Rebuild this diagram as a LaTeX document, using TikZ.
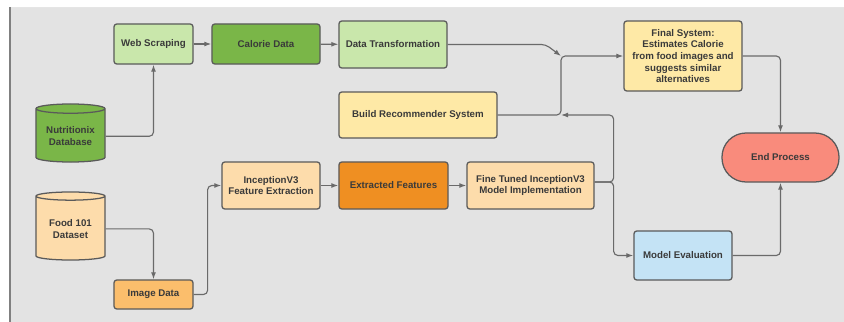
\documentclass[tikz,border=0pt]{standalone}
\usepackage{fontspec}
\setmainfont{Liberation Sans}
\usetikzlibrary{shapes.geometric,arrows.meta}

\definecolor{canvas}{HTML}{E3E3E3}
\definecolor{edge}{HTML}{5A5A5A}
\definecolor{wire}{HTML}{6A6A6A}
\definecolor{ink}{HTML}{3A3A3A}
\definecolor{leaf}{HTML}{C9E7AB}
\definecolor{grass}{HTML}{7AB648}
\definecolor{cream}{HTML}{FEE9A6}
\definecolor{peach}{HTML}{FDDCAB}
\definecolor{apricot}{HTML}{FBBE6C}
\definecolor{pumpkin}{HTML}{EF8F22}
\definecolor{sky}{HTML}{C4E3F5}
\definecolor{salmon}{HTML}{F98B7C}

\tikzset{
  box/.style={rectangle, rounded corners=2pt, draw=edge, line width=0.9pt, text=ink,
    font=\fontsize{6.9}{8.3}\selectfont\bfseries, align=center, inner sep=1pt},
  drum/.style={cylinder, shape border rotate=90, aspect=0.18, anchor=shape center, draw=edge,
    line width=0.9pt, text=ink, font=\fontsize{6.9}{8.3}\selectfont\bfseries, align=center,
    inner sep=1pt},
  link/.style={draw=wire, line width=0.8pt, rounded corners=3pt,
    -{Latex[length=5pt,width=3.5pt]}},
}

\begin{document}
\begin{tikzpicture}[x=0.025cm, y=-0.025cm]
    \useasboundingbox (0,0) rectangle (844,322);
    \fill[canvas] (10,7) rectangle (844,322);
    \draw[white!80!gray, line width=0.6pt] (10,7) -- (844,7);
    \draw[gray, line width=0.8pt] (10,7) -- (10,322);

    % data sources
    \node[drum, fill=grass, minimum width=1.725cm, minimum height=1.45cm] at (70.5,133) (nut) {Nutritionix\\Database};
    \node[drum, fill=peach, minimum width=1.725cm, minimum height=1.7cm] at (70.5,226) (food) {Food 101\\Dataset};

    % upper branch
    \node[box, fill=leaf, minimum width=1.975cm, minimum height=1cm] at (153.5,44) (web) {Web Scraping};
    \node[box, fill=grass, minimum width=2.7cm, minimum height=1cm] at (266,44) (cal) {Calorie Data};
    \node[box, fill=leaf, minimum width=2.7cm, minimum height=1.175cm] at (393,44.5) (dt) {Data Transformation};
    \node[box, fill=cream, minimum width=3.95cm, minimum height=1.15cm] at (418,115) (rec) {Build Recommender System};
    \node[box, fill=cream, minimum width=2.95cm, minimum height=1.75cm] at (683,56) (fin) {Final System:\\Estimates Calorie\\from food images and\\suggests similar\\alternatives};

    % lower branch
    \node[box, fill=apricot, minimum width=1.975cm, minimum height=0.725cm] at (153.5,294.5) (img) {Image Data};
    \node[box, fill=peach, minimum width=2.45cm, minimum height=1.175cm] at (271,185.5) (inc) {InceptionV3\\Feature Extraction};
    \node[box, fill=pumpkin, minimum width=2.725cm, minimum height=1.175cm] at (393.5,185.5) (ext) {Extracted Features};
    \node[box, fill=peach, minimum width=3.175cm, minimum height=1.175cm] at (530.5,185.5) (fine) {Fine Tuned InceptionV3\\Model Implementation};
    \node[box, fill=sky, minimum width=2.45cm, minimum height=1.225cm] at (683,255.5) (eval) {Model Evaluation};
    \node[box, fill=salmon, rounded corners=0.6cm, minimum width=2.925cm, minimum height=1.225cm] at (780.5,157.5) (end) {End Process};

    \coordinate (jn) at (561,56);
    \coordinate (jb) at (561,115);
    \coordinate (fo) at ([yshift=0.0875cm]fine.east);

    \draw[link] (nut.east) -| (web.south);
    \draw[link] (web) -- (cal);
    \draw[link] (cal) -- (dt);
    \draw[link] (dt.east) -- ++(98,0) -- (jn);
    \draw[link] (rec.east) -- (jb) -- (jn) -- (fin.west);
    \draw[link] (fin.east) -| (end.north);

    \draw[link] (food.east) -| (img.north);
    \draw[link] (img.east) -- ++(14,0) |- (inc.west);
    \draw[link] (inc) -- (ext);
    \draw[link] (ext) -- (fine);
    \draw[link] (fo) -- ++(19,0) |- (jb);
    \draw[link] (fo) -- ++(19,0) |- (eval.west);
    \draw[link] (eval.east) -| (end.south);
\end{tikzpicture}
\end{document}
